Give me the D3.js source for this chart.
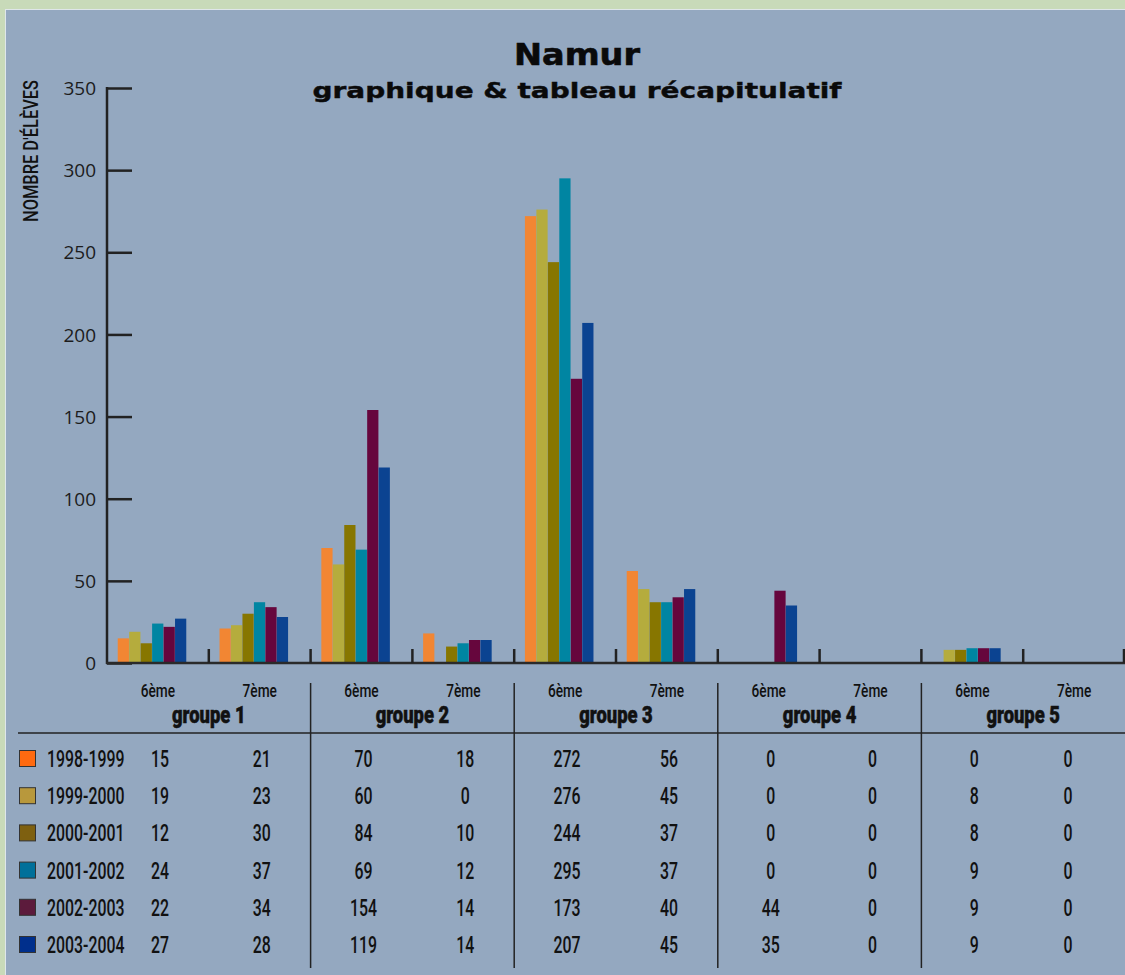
<!DOCTYPE html>
<html><head><meta charset="utf-8">
<script src="https://cdn.jsdelivr.net/npm/d3@7"></script>
<style>body{margin:0;background:#c8dab9;}svg{display:block;}</style>
</head><body>
<svg id="c" width="1125" height="975"></svg>
<script>
const groups = ["groupe 1","groupe 2","groupe 3","groupe 4","groupe 5"];
const levels = ["6ème","7ème"];
const years = ["1998-1999","1999-2000","2000-2001","2001-2002","2002-2003","2003-2004"];
const v1998 = [15,21,70,18,272,56,0,0,0,0];
const v1999 = [19,23,60,0,276,45,0,0,8,0];
const v2000 = [12,30,84,10,244,37,0,0,8,0];
const v2001 = [24,37,69,12,295,37,0,0,9,0];
const v2002 = [22,34,154,14,173,40,44,0,9,0];
const v2003 = [27,28,119,14,207,45,35,0,9,0];
const yTicks = [0,50,100,150,200,250,300,350];
const barColors = ["#f28633","#b5ac3d","#877600","#0085a2","#66063d","#0b4391"];
const swatchColors = ["#ff6a10","#b8983c","#7e6010","#00709a","#5c1b3c","#002f8c"];

const series = [v1998,v1999,v2000,v2001,v2002,v2003];
const cats = [];
groups.forEach((g,gi)=>levels.forEach((l,li)=>cats.push({g:gi,l:li,key:g+"|"+l})));

const svg = d3.select("#c");
svg.append("rect").attr("x",0).attr("y",0).attr("width",1125).attr("height",975).attr("fill","#c8dab9");
svg.append("rect").attr("x",5.5).attr("y",9.5).attr("width",1125).attr("height",970)
  .attr("fill","#94a8c0").attr("stroke","#dfe6ea").attr("stroke-width",1);

const x = d3.scaleBand().domain(cats.map(c=>c.key)).range([107,1125]).padding(0);
const xs = d3.scaleBand().domain(d3.range(6)).range([10.5,79.5]).padding(0.02);
const y = d3.scaleLinear().domain([0,350]).range([663,88]);

// bars
const bars = svg.append("g");
series.forEach((s,si)=>{
  bars.selectAll(null).data(s).join("rect")
    .attr("x",(d,i)=>x(cats[i].key)+xs(si))
    .attr("width",xs.bandwidth())
    .attr("y",d=>y(d))
    .attr("height",d=>y(0)-y(d))
    .attr("fill",barColors[si]);
});

// y axis
const yAxis = d3.axisRight(y).tickValues(yTicks).tickSize(25).tickFormat(d3.format("d"));
const ya = svg.append("g").attr("transform","translate(107,0)").call(yAxis);
ya.select(".domain").remove();
ya.selectAll(".tick line").attr("stroke","#222").attr("stroke-width",2.5);
ya.selectAll(".tick text").attr("x",-11).attr("text-anchor","end").attr("dy","0.35em")
  .attr("fill","#1c1c1c").style("font-family","'Open Sans',sans-serif").style("font-size","19px").style("font-weight","400");
svg.append("line").attr("x1",107).attr("x2",107).attr("y1",87).attr("y2",664).attr("stroke","#222").attr("stroke-width",2.5);

// x axis
svg.append("line").attr("x1",106).attr("x2",1125).attr("y1",663).attr("y2",663).attr("stroke","#2a2a2a").attr("stroke-width",2.5);
const xb = cats.map(c=>x(c.key)).slice(1).concat([1124]);
svg.append("g").selectAll("line").data(xb).join("line")
  .attr("x1",d=>d).attr("x2",d=>d).attr("y1",649).attr("y2",663)
  .attr("stroke","#222").attr("stroke-width",2.5);

// titles
svg.append("text").attr("x",577).attr("y",65).attr("text-anchor","middle")
  .attr("textLength",126).attr("lengthAdjust","spacingAndGlyphs")
  .style("font-family","'DejaVu Sans',sans-serif").style("font-weight","bold").style("font-size","30px")
  .attr("fill","#0a0a0a").attr("stroke","#0a0a0a").attr("stroke-width",0.6).text("Namur");
svg.append("text").attr("x",577).attr("y",98).attr("text-anchor","middle")
  .attr("textLength",529).attr("lengthAdjust","spacingAndGlyphs")
  .style("font-family","'DejaVu Sans',sans-serif").style("font-weight","bold").style("font-size","22px")
  .attr("fill","#0a0a0a").attr("stroke","#0a0a0a").attr("stroke-width",0.4).text("graphique & tableau récapitulatif");

// y label
svg.append("text").attr("transform","translate(38,151) rotate(-90)").attr("text-anchor","middle")
  .attr("textLength",142).attr("lengthAdjust","spacingAndGlyphs")
  .style("font-family","Roboto,sans-serif").style("font-weight","500").style("font-size","21px").attr("fill","#111")
  .text("NOMBRE D'ÉLÈVES");

function ctext(g, px, py, txt, size, weight, sx, anchor){
  return g.append("text").attr("transform",`translate(${px},${py}) scale(${sx},1)`)
    .attr("text-anchor",anchor||"middle")
    .style("font-family","Roboto,sans-serif").style("font-size",size+"px").style("font-weight",weight)
    .attr("fill","#111").text(txt);
}

// table header
const tbl = svg.append("g");
cats.forEach((c,i)=>{
  ctext(tbl, x(c.key)+x.bandwidth()/2, 697, levels[c.l], 19, 500, 0.72);
});
groups.forEach((g,gi)=>{
  const cx = x(cats[gi*2].key)+x.bandwidth();
  ctext(tbl, cx, 723, g, 23, 900, 0.8).attr("stroke","#111").attr("stroke-width",0.5);
});
// lines
tbl.append("line").attr("x1",18).attr("x2",1125).attr("y1",733).attr("y2",733).attr("stroke","#222").attr("stroke-width",1.5);
groups.slice(1).forEach((g,gi)=>{
  const bx = x(cats[(gi+1)*2].key);
  tbl.append("line").attr("x1",bx).attr("x2",bx).attr("y1",683).attr("y2",968).attr("stroke","#222").attr("stroke-width",1.5);
});

// rows
const rowY = d3.scalePoint().domain(years).range([759,945]);
years.forEach((yr,si)=>{
  const ry = rowY(yr);
  tbl.append("rect").attr("x",19.5).attr("y",ry-8.5).attr("width",16).attr("height",16)
    .attr("fill",swatchColors[si]).attr("stroke","#333").attr("stroke-width",1);
  ctext(tbl, 47, ry+8, yr, 23, 500, 0.69, "start");
  series[si].forEach((v,i)=>{
    const off = i === cats.length-1 ? -6 : 2;
    ctext(tbl, x(cats[i].key)+x.bandwidth()/2+off, ry+8, String(v), 23, 500, 0.69);
  });
});
</script>
</body></html>
